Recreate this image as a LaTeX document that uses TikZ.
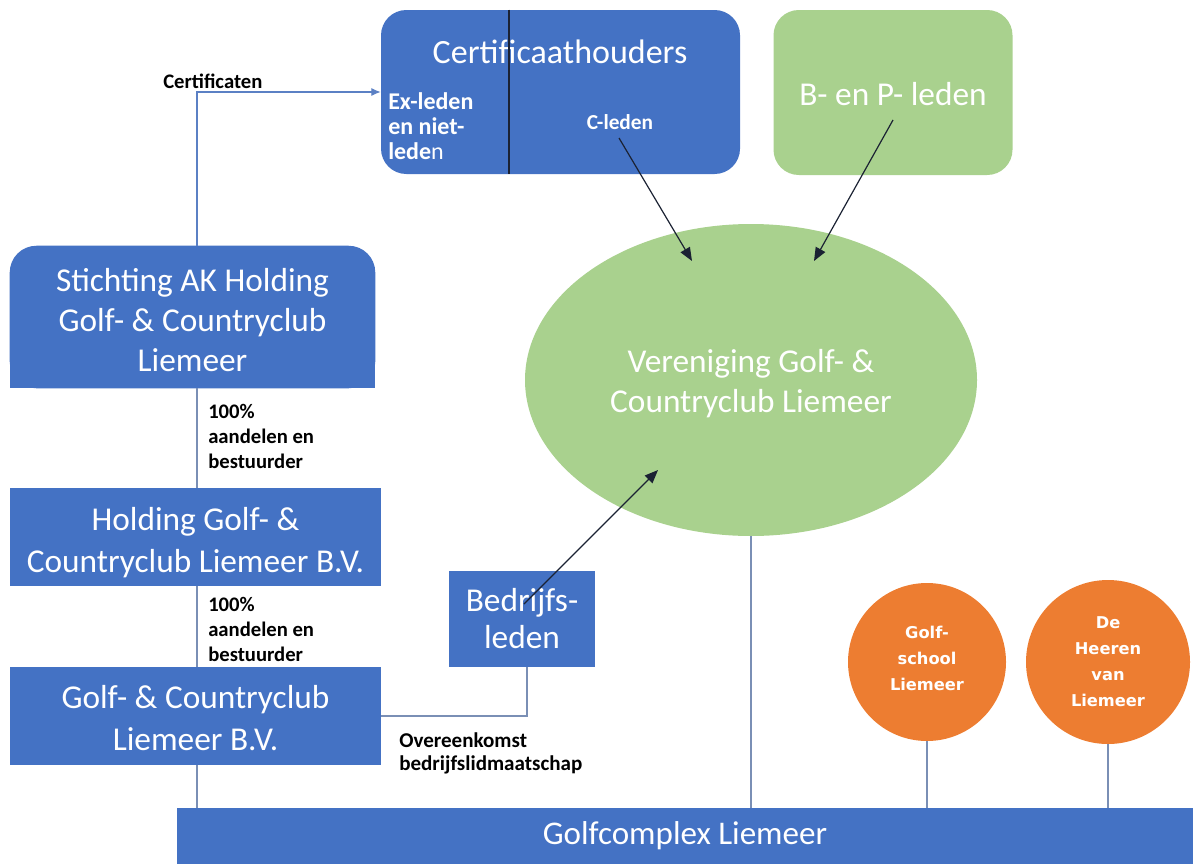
\documentclass[tikz,border=0pt]{standalone}
\usepackage{fontspec}
\setmainfont{Carlito}
\newfontfamily\orfont{DejaVu Sans}
\usetikzlibrary{arrows.meta,backgrounds,shapes.geometric}
\definecolor{bl}{HTML}{4472C4}
\definecolor{gr}{HTML}{A9D18E}
\definecolor{orc}{HTML}{ED7D31}
\definecolor{lk}{HTML}{7A8FB5}
\definecolor{lkb}{HTML}{5B80C4}
\definecolor{dk}{HTML}{1B2233}
\begin{document}
\begin{tikzpicture}[x=0.75pt,y=-0.75pt,
  box/.style={fill=bl,text=white,inner sep=0pt,align=center,font=\fontsize{25}{30}\selectfont},
  btxt/.style={inner sep=0pt,align=center,text=white,font=\fontsize{25}{30}\selectfont},
  gbox/.style={fill=gr,text=white,inner sep=0pt,align=center,font=\fontsize{25}{30}\selectfont},
  obox/.style={circle,fill=orc,text=white,inner sep=0pt,align=center,font=\orfont\bfseries\fontsize{12.2}{19.5}\selectfont},
  lab/.style={inner sep=0pt,align=left,text=black,font=\bfseries\fontsize{15.5}{18.75}\selectfont},
  ilab/.style={inner sep=0pt,align=left,text=white,font=\fontsize{18}{18.75}\selectfont},
  lnk/.style={draw=lk,line width=0.8pt},
  ar/.style={draw=dk,line width=0.9pt,-{Triangle[length=10pt,width=8pt]}}]
\useasboundingbox (0,0) rectangle (1194,864);

% Certificaathouders
\node[box,rounded corners=19pt,minimum width=359*0.75pt,minimum height=164*0.75pt] (cert) at (560.5,92) {};
\node[btxt,font=\fontsize{25.5}{30}\selectfont] (certt) at (560,52) {Certificaathouders};
\node[ilab,anchor=west] (exl) at (388,126) {\textbf{Ex-leden}\\\textbf{en niet-}\\\textbf{lede}n};
\node[inner sep=0pt,text=white,font=\bfseries\fontsize{16}{18}\selectfont] (cl) at (620,122) {C-leden};
\coordinate (dv) at (509,0);
\draw[dk,line width=1.1pt] (cert.north -| dv) -- (cert.south -| dv);

% B- en P- leden
\node[gbox,rounded corners=19pt,minimum width=239*0.75pt,minimum height=165*0.75pt] (bp) at (893,92.5) {};
\node[btxt] (bpt) at (893,94) {B- en P- leden};

% Stichting
\node[inner sep=0pt,minimum width=365*0.75pt,minimum height=142*0.75pt] (stich) at (192.5,317) {};
\begin{scope}[on background layer]
\fill[bl,rounded corners=20pt] (stich.south west) rectangle (stich.north east);
\fill[bl] (stich.south west) rectangle (stich.east);
\end{scope}
\node[btxt] (sticht) at (192.5,320) {Stichting AK Holding\\Golf- \& Countryclub\\Liemeer};

% Holding
\node[box,minimum width=371*0.75pt,minimum height=98*0.75pt] (hold) at (195.5,537) {};
\node[btxt,font=\fontsize{25}{31.5}\selectfont] (holdt) at (195.5,543) {Holding Golf- \&\\Countryclub Liemeer B.V.};
% GCL
\node[box,minimum width=371*0.75pt,minimum height=98*0.75pt,font=\fontsize{25}{31}\selectfont] (gcl) at (195.5,716) {};
\node[btxt,font=\fontsize{25}{31}\selectfont] (gclt) at (195.5,718) {Golf- \& Countryclub\\Liemeer B.V.};
% Bedrijfsleden
\node[box,minimum width=146*0.75pt,minimum height=96*0.75pt,font=\fontsize{25}{27.75}\selectfont] (bedr) at (522,619) {Bedrijfs-\\leden};

% Vereniging
\node[ellipse,fill=gr,inner sep=0pt,minimum width=452*0.75pt,minimum height=312*0.75pt] (ver) at (751,380) {};
\node[btxt] (vert) at (751,384) {Vereniging Golf- \&\\Countryclub Liemeer};

% Orange circles
\node[obox,minimum size=158*0.75pt] (gs) at (927,662) {};
\node[inner sep=0pt,align=center,text=white,font=\orfont\bfseries\fontsize{12.2}{19.5}\selectfont] (gst) at (927,658) {Golf-\\school\\Liemeer};
\node[obox,minimum size=164*0.75pt] (hv) at (1108,662) {De\\Heeren\\van\\Liemeer};

% Golfcomplex bar
\node[box,minimum width=1016*0.75pt,minimum height=56*0.75pt,font=\fontsize{24.8}{28}\selectfont] (bar) at (685,836) {Golfcomplex Liemeer};

% connectors
\coordinate (tx) at (197,0);
\draw[draw=lkb,line width=0.8pt,-{Latex[length=7pt,width=6pt]}] (stich.north -| tx) |- (cert.west);
\node[lab,anchor=south west] (certlab) at (163,89) {Certificaten};
\draw[lnk] (stich.south -| tx) -- (hold.north -| tx);
\node[lab,anchor=west] (l1) at (208,436) {100\%\\aandelen en\\bestuurder};
\draw[lnk] (hold.south -| tx) -- (gcl.north -| tx);
\node[lab,anchor=west] (l2) at (208,629) {100\%\\aandelen en\\bestuurder};
\draw[lnk] (gcl.south -| tx) -- (bar.north -| tx);

\coordinate (bx) at (527,0);
\draw[lnk] (gcl.east) -| (bedr.south -| bx);
\node[lab,anchor=west,font=\bfseries\fontsize{15.8}{17.25}\selectfont] (l3) at (399,753) {Overeenkomst\\bedrijfslidmaatschap};

\coordinate (bs) at (524,604);
\coordinate (be) at (658,470);
\draw[ar] (bs) -- (be);
\coordinate (cs) at (619,138);
\coordinate (ce) at (692,261);
\draw[ar] (cs) -- (ce);
\coordinate (ps) at (893,120);
\coordinate (pe) at (814,261);
\draw[ar] (ps) -- (pe);

\draw[lnk] (ver.south) -- (ver.south |- bar.north);
\draw[lnk] (gs.south) -- (gs.south |- bar.north);
\draw[lnk] (hv.south) -- (hv.south |- bar.north);
\end{tikzpicture}
\end{document}
